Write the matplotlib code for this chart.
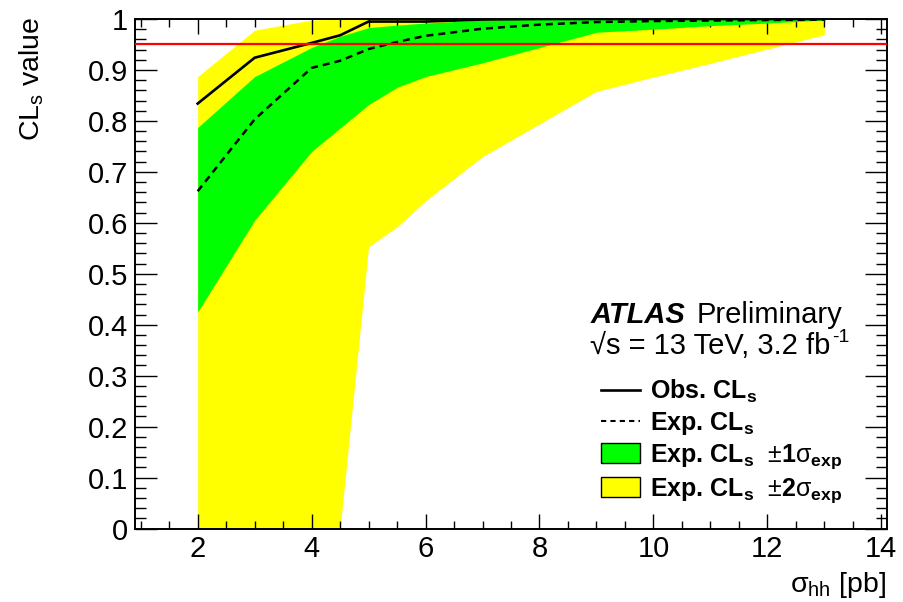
import numpy as np
import matplotlib
matplotlib.use("Agg")
import matplotlib.pyplot as plt
from matplotlib.lines import Line2D
from matplotlib.patches import Patch
from matplotlib.ticker import MultipleLocator

plt.rcParams['font.family'] = ['Liberation Sans', 'DejaVu Sans']
plt.rcParams['mathtext.fontset'] = 'custom'
plt.rcParams['mathtext.rm'] = 'Liberation Sans'
plt.rcParams['mathtext.it'] = 'Liberation Sans:italic'
plt.rcParams['mathtext.bf'] = 'Liberation Sans:bold'

# cross section scan points (pb)
sigma_hh = [2, 3, 4, 4.5, 5, 5.5, 6, 7, 8, 9, 10, 11, 12, 13]

# CLs values
cls_obs = [0.834, 0.924, 0.953, 0.968, 0.995, 0.995, 0.995, 0.999, 1.0, 1.0, 1.0, 1.0, 1.0, 1.0]
cls_exp = [0.662, 0.803, 0.904, 0.918, 0.941, 0.955, 0.967, 0.981, 0.989, 0.994, 0.996, 0.997, 0.998, 0.999]
cls_1s_lo = [0.425, 0.605, 0.740, 0.786, 0.832, 0.866, 0.887, 0.914, 0.944, 0.974, 0.980, 0.987, 0.992, 0.998]
cls_1s_hi = [0.787, 0.887, 0.944, 0.966, 0.983, 0.988, 0.992, 0.998, 1.0, 1.0, 1.0, 1.0, 1.0, 1.0]
cls_2s_lo = [0.0, 0.0, 0.0, 0.0, 0.553, 0.592, 0.643, 0.730, 0.794, 0.858, 0.886, 0.913, 0.941, 0.969]
cls_2s_hi = [0.887, 0.978, 0.998, 1.0, 1.0, 1.0, 1.0, 1.0, 1.0, 1.0, 1.0, 1.0, 1.0, 1.0]

cl_level = 0.95

W, H = 904, 602
fig = plt.figure(figsize=(W / 100, H / 100), dpi=100)
ax = fig.add_axes([135 / W, 1 - 528.5 / H, 752 / W, 509.5 / H])

ax.fill_between(sigma_hh, cls_2s_lo, cls_2s_hi, color='#ffff00', lw=0, zorder=1)
ax.fill_between(sigma_hh, cls_1s_lo, cls_1s_hi, color='#00ff00', lw=0, zorder=2)
ax.plot(sigma_hh, cls_exp, color='black', lw=1.8, ls=(0, (2.8, 2.0)), zorder=3)
ax.plot(sigma_hh, cls_obs, color='black', lw=1.9, zorder=3)
ax.axhline(cl_level, color='#ff0000', lw=1.6, zorder=4)

ax.set_xlim(0.9, 14.1)
ax.set_ylim(0, 1)

ax.xaxis.set_major_locator(MultipleLocator(2))
ax.xaxis.set_minor_locator(MultipleLocator(0.5))
ax.yaxis.set_minor_locator(MultipleLocator(0.02))
ax.set_yticks(np.arange(0, 1.01, 0.1))
ax.set_yticklabels(['0'] + ['%.1f' % v for v in np.arange(0.1, 0.95, 0.1)] + ['1'])

ax.tick_params(axis='both', which='both', direction='in', top=True, right=True,
               width=1.0, labelsize=21)
ax.tick_params(axis='x', which='major', length=11, pad=5)
ax.tick_params(axis='x', which='minor', length=5.5)
ax.tick_params(axis='y', which='major', length=16, pad=5)
ax.tick_params(axis='y', which='minor', length=8)
for s in ax.spines.values():
    s.set_linewidth(1.4)

fig.text(46 / W, 1 - 17 / H, r'CL$_\mathrm{s}$ value', rotation=90,
         ha='right', va='top', fontsize=20.5)
fig.text(886 / W, 1 - 592 / H, r'$\mathrm{\sigma}_\mathrm{hh}$ [pb]',
         ha='right', va='baseline', fontsize=20.5)

fig.text(591 / W, 1 - 323 / H, 'ATLAS', fontsize=21, fontweight='bold',
         fontstyle='italic', va='baseline')
fig.text(697 / W, 1 - 323 / H, 'Preliminary', fontsize=21, va='baseline')
lumi = fig.text(590 / W, 1 - 354 / H, '\u221as = 13 TeV, 3.2 fb', fontsize=21,
                va='baseline')
# superscript on the luminosity unit
ax.annotate('-1', xy=(1, 1), xycoords=lumi, xytext=(1, 2), textcoords='offset points',
            ha='left', va='top', fontsize=14)

handles = [
    Line2D([], [], color='black', lw=1.9),
    Line2D([], [], color='black', lw=1.5, ls=(0, (2.5, 2.0))),
    Patch(facecolor='#00ff00', edgecolor='black', lw=1.0),
    Patch(facecolor='#ffff00', edgecolor='black', lw=1.0),
]
labels = [
    r'Obs. CL$_\mathbf{s}$',
    r'Exp. CL$_\mathbf{s}$',
    r'Exp. CL$_\mathbf{s}$  $\pm\mathbf{1}\mathrm{\sigma}_\mathbf{exp}$',
    r'Exp. CL$_\mathbf{s}$  $\pm\mathbf{2}\mathrm{\sigma}_\mathbf{exp}$',
]
ax.legend(handles, labels, loc='upper left', bbox_to_anchor=(601 / W, 1 - 378 / H),
          bbox_transform=fig.transFigure, frameon=False,
          prop={'size': 18, 'weight': 'bold'}, handlelength=1.55,
          handleheight=0.85, handletextpad=0.4, labelspacing=0.2,
          borderpad=0, borderaxespad=0)

fig.savefig('out.png', dpi=100)
